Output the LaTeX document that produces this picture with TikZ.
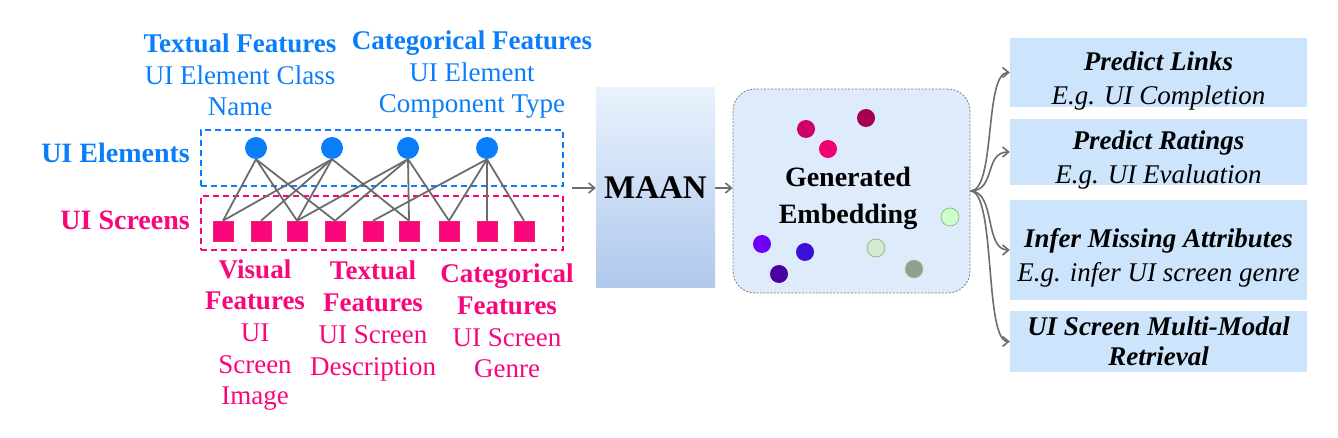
\documentclass[tikz,border=0pt]{standalone}
\usepackage{fontspec}
\setmainfont{Liberation Serif}
\usetikzlibrary{arrows.meta}
\definecolor{elemblue}{HTML}{0A7EFA}
\definecolor{scrpink}{HTML}{FA067C}
\definecolor{edgegray}{HTML}{6C6C6C}
\definecolor{maantop}{HTML}{E9F2FD}
\definecolor{maanbot}{HTML}{AFC8EC}
\definecolor{embfill}{HTML}{DDEBFA}
\definecolor{taskfill}{HTML}{CCE4FC}
\newcommand{\tasklines}[2]{\rule{0pt}{30pt}#1\\\smash{#2}}
\begin{document}
\begin{tikzpicture}[x=1pt,y=-1pt]
        \tikzstyle{every node}+=[inner sep=0pt, font=\fontsize{27}{31.5}\selectfont]
        \tikzstyle{elem}=[circle, fill=elemblue, minimum size=22pt]
        \tikzstyle{scr}=[rectangle, fill=scrpink, draw=scrpink!75!brown, line width=0.5pt, minimum size=20pt]
        \tikzstyle{frame}=[rectangle, line width=1.5pt, dash pattern=on 6pt off 4pt, minimum width=362pt]
        \tikzstyle{link}=[draw=edgegray, line width=1.8pt]
        \tikzstyle{flow}=[draw=edgegray, line width=1.6pt, -{Straight Barb[length=6pt,width=10pt]}]
        \tikzstyle{dot}=[circle, minimum size=18pt]
        \tikzstyle{task}=[rectangle, fill=taskfill, minimum width=297pt, align=center, font=\fontsize{27}{34}\selectfont\itshape]
        \useasboundingbox (0,0) rectangle (1338,438);
        \node (txtfeat) [elemblue, align=center] at (240,75) {\textbf{Textual Features}\\UI Element Class\\Name};
        \node (catfeat) [elemblue, align=center] at (472,75) {\textbf{Categorical Features}\\UI Element\\Component Type};
        \node (elemlbl) [elemblue, anchor=east, font=\fontsize{28}{31.5}\selectfont\bfseries] at (190,153) {UI Elements};
        \node (scrlbl) [scrpink, anchor=east, font=\fontsize{28}{31.5}\selectfont\bfseries] at (190,220) {UI Screens};
        \node (elems) [frame, draw=elemblue, minimum height=56pt] at (382,158) {};
        \node (screens) [frame, draw=scrpink, minimum height=54pt] at (382,223) {};
        \node (c1) [elem] at (256,148) {};
        \node (c2) [elem] at (332,148) {};
        \node (c3) [elem] at (408,148) {};
        \node (c4) [elem] at (487,148) {};
        \node (s1) [scr] at (223,231) {};
        \node (s2) [scr] at (261,231) {};
        \node (s3) [scr] at (297,231) {};
        \node (s4) [scr] at (335,231) {};
        \node (s5) [scr] at (373,231) {};
        \node (s6) [scr] at (409,231) {};
        \node (s7) [scr] at (449,231) {};
        \node (s8) [scr] at (487,231) {};
        \node (s9) [scr] at (524,231) {};
        \draw [link] (c1.south) -- (s1.north);
        \draw [link] (c1.south) -- (s3.north);
        \draw [link] (c1.south) -- (s4.north);
        \draw [link] (c2.south) -- (s1.north);
        \draw [link] (c2.south) -- (s2.north);
        \draw [link] (c2.south) -- (s3.north);
        \draw [link] (c2.south) -- (s6.north);
        \draw [link] (c3.south) -- (s3.north);
        \draw [link] (c3.south) -- (s4.north);
        \draw [link] (c3.south) -- (s6.north);
        \draw [link] (c3.south) -- (s7.north);
        \draw [link] (c4.south) -- (s5.north);
        \draw [link] (c4.south) -- (s7.north);
        \draw [link] (c4.south) -- (s8.north);
        \draw [link] (c4.south) -- (s9.north);
        \node (visfeat) [scrpink, align=center, font=\fontsize{27}{31.7}\selectfont] at (255,335) {\textbf{Visual}\\\textbf{Features}\\UI\\Screen\\Image};
        \node (scrtxt) [scrpink, align=center, font=\fontsize{27}{31.7}\selectfont] at (373,321) {\textbf{Textual}\\\textbf{Features}\\UI Screen\\Description};
        \node (scrcat) [scrpink, align=center, font=\fontsize{27}{31.7}\selectfont] at (507,321) {\textbf{Categorical}\\\textbf{Features}\\UI Screen\\Genre};
        \node (maan) [shade, top color=maantop, bottom color=maanbot, minimum width=119pt, minimum height=200pt, font=\fontsize{33}{33}\selectfont\bfseries] at (655.5,188) {MAAN};
        \coordinate (grp) at (572,188);
        \draw [flow] (grp) -- (maan);
        \node (emb) [rectangle, rounded corners=22pt, fill=embfill, draw=gray, line width=0.8pt, dash pattern=on 2pt off 1.5pt, minimum width=237pt, minimum height=204pt] at (851.5,191) {};
        \draw [flow] (maan.east) -- (maan.east -| emb.west);
        \node (embtxt) [align=center, font=\fontsize{28}{37}\selectfont\bfseries] at (848,198) {Generated\\Embedding};
        \node (d1) [dot, fill={rgb,255:red,208;green,0;blue,106}] at (806,129) {};
        \node (d2) [dot, fill={rgb,255:red,165;green,0;blue,82}] at (866,118) {};
        \node (d3) [dot, fill={rgb,255:red,240;green,0;blue,112}] at (828,149) {};
        \node (d4) [dot, fill={rgb,255:red,112;green,0;blue,245}] at (762,244) {};
        \node (d5) [dot, fill={rgb,255:red,58;green,16;blue,216}] at (805,252) {};
        \node (d6) [dot, fill={rgb,255:red,75;green,0;blue,160}] at (779,274) {};
        \node (d7) [dot, fill={rgb,255:red,204;green,255;blue,204}, draw={rgb,255:red,130;green,179;blue,102}, line width=0.6pt] at (950,217) {};
        \node (d8) [dot, fill={rgb,255:red,213;green,232;blue,212}, draw={rgb,255:red,130;green,179;blue,102}, line width=0.6pt] at (876,248) {};
        \node (d9) [dot, fill={rgb,255:red,143;green,160;blue,143}, draw={rgb,255:red,170;green,200;blue,160}, line width=0.6pt] at (914,269) {};
        \node (task1) [task, minimum height=69pt] at (1158.5,72.5) {\tasklines{\textbf{Predict Links}}{E.g. UI Completion}};
        \node (task2) [task, minimum height=66pt] at (1158.5,152) {\tasklines{\textbf{Predict Ratings}}{E.g. UI Evaluation}};
        \node (task3) [task, minimum height=100pt] at (1158.5,250) {\tasklines{\textbf{Infer Missing Attributes}}{E.g. infer UI screen genre}};
        \node (task4) [task, minimum height=61pt, font=\fontsize{27}{30}\selectfont\itshape] at (1158.5,341.5) {\textbf{UI Screen Multi-Modal}\\\textbf{Retrieval}};
        \draw [flow] (emb.east) .. controls (996,191) and (984,72.5) .. (task1.west);
        \draw [flow] (emb.east) .. controls (996,191) and (984,152) .. (task2.west);
        \draw [flow] (emb.east) .. controls (996,191) and (984,250) .. (task3.west);
        \draw [flow] (emb.east) .. controls (996,191) and (984,341.5) .. (task4.west);
\end{tikzpicture}
\end{document}
